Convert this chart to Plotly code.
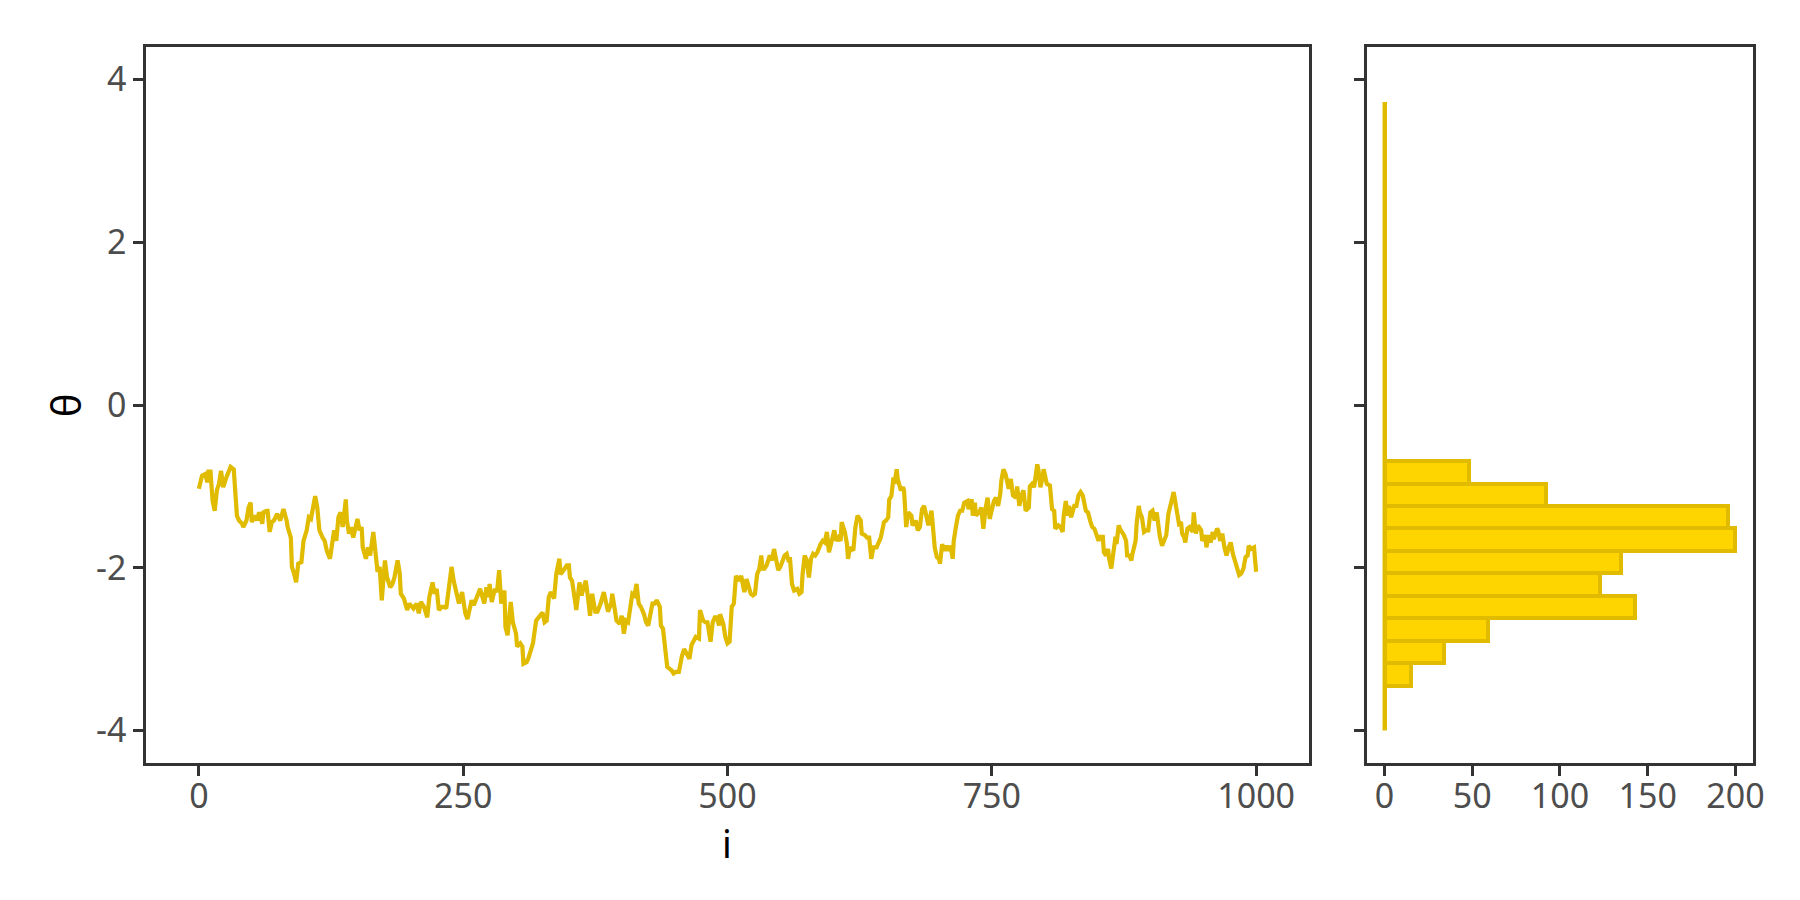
import plotly.graph_objects as go

# ---- trace data ----
iteration = [0, 3, 6, 8, 9, 11, 13, 15, 17, 19, 21, 23, 26, 28, 30, 33, 35, 36, 38, 41, 42, 45, 47, 49, 50, 53, 55, 57, 60, 61, 64, 65, 67, 69, 71, 74, 77, 80, 83, 84, 87, 88, 90, 92, 94, 97, 99, 102, 104, 106, 108, 110, 112, 114, 117, 119, 121, 124,
             126, 128, 130, 132, 134, 136, 139, 140, 142, 144, 146, 148, 150, 152, 154, 155, 158, 160, 162, 165, 167, 169, 171, 173, 176, 178, 181, 183, 185, 188, 190, 191, 194, 197, 199, 201, 203, 206, 208, 210, 213, 216, 218, 221, 223, 225, 227, 230, 232, 234, 236, 239, 241, 244, 246, 249, 252, 254, 256, 258, 260, 264, 266,
             270, 272, 274, 275, 277, 280, 282, 284, 286, 289, 290, 292, 295, 297, 300, 301, 304, 306, 307, 310, 312, 314, 316, 319, 322, 325, 327, 329, 331, 333, 336, 338, 341, 342, 345, 348, 350, 351, 353, 356, 357, 360, 362, 364, 366, 368, 370, 372, 375, 377, 380, 383, 385, 387, 390,
             391, 393, 395, 398, 400, 402, 404, 406, 408, 410, 412, 414, 416, 418, 421, 423, 425, 427, 429, 431, 433, 436, 437, 439, 441, 443, 445, 447, 449, 451, 454, 455, 457, 459, 461, 464, 466, 468, 470, 473, 474, 477, 479, 481, 484, 486, 488, 490, 492, 493, 496, 498, 500, 502, 504, 506, 508, 511, 513, 515, 516, 518, 520, 522, 524, 526, 528, 530,
             532, 533, 535, 537, 540, 542, 544, 546, 548, 550, 552, 554, 556, 558, 559, 561, 563, 566, 568, 570, 571, 573, 575, 577, 579, 581, 583, 585, 588, 590, 592, 594, 596, 599, 601, 603, 605, 607, 608, 611, 613, 614, 616, 619, 621, 623, 626, 627, 630, 632, 634, 636, 638, 641, 643, 645, 648, 650, 652, 653, 655, 657, 658, 660, 661, 664,
             666, 667, 669, 671, 674, 675, 678, 680, 682, 684, 686, 689, 690, 693, 694, 696, 698, 700, 701, 703, 705, 707, 709, 711, 713, 714, 716, 718, 720, 722, 724, 727, 728, 731, 732, 734, 735, 738, 740, 742, 744, 746, 748, 750, 752, 754, 756, 758, 759, 761, 763, 766, 768, 770, 773, 774, 776, 778, 780, 782, 785, 786, 788, 790, 793, 794, 796,
             798, 799, 802, 805, 807, 809, 810, 813, 815, 817, 818, 820, 822, 823, 825, 828, 830, 832, 834, 836, 839, 841, 843, 845, 847, 849, 851, 852, 855, 856, 858, 860, 861, 863, 865, 867, 868, 870, 872, 875, 877, 878, 880, 882, 883, 886, 887, 889, 890, 892, 894, 896, 898, 900, 902, 904, 906, 907, 909, 911, 913, 915, 917, 918, 920, 922,
             924, 925, 927, 929, 930, 932, 933, 935, 937, 940, 941, 943, 945, 948, 949, 952, 953, 955, 957, 959, 960, 963, 964, 966, 968, 970, 972, 974, 976, 978, 980, 982, 984, 986, 988, 990, 992, 993, 995, 998, 999, 1000]

theta = [-1.03, -0.87, -0.85, -0.95, -0.82, -0.82, -1.18, -1.30, -1.05, -0.97, -0.81, -1.01, -0.89, -0.83, -0.76, -0.79, -1.10, -1.36, -1.42, -1.46, -1.50, -1.42, -1.26, -1.20, -1.44, -1.36, -1.42, -1.32, -1.46, -1.32, -1.30, -1.30, -1.56, -1.44, -1.42, -1.34, -1.42, -1.28, -1.42, -1.50, -1.63, -1.99, -2.07, -2.18, -1.95, -1.93, -1.67, -1.54, -1.38, -1.40, -1.26, -1.12, -1.26, -1.54, -1.63, -1.67, -1.79, -1.89,
         -1.71, -1.54, -1.67, -1.38, -1.32, -1.50, -1.16, -1.42, -1.58, -1.50, -1.63, -1.50, -1.40, -1.54, -1.50, -1.75, -1.89, -1.75, -1.85, -1.56, -1.87, -2.05, -1.99, -2.40, -1.91, -2.12, -2.24, -2.20, -2.12, -1.91, -2.07, -2.32, -2.38, -2.52, -2.44, -2.48, -2.50, -2.44, -2.56, -2.42, -2.48, -2.61, -2.36, -2.18, -2.32, -2.26, -2.52, -2.48, -2.48, -2.50, -2.30, -1.99, -2.16, -2.34, -2.44, -2.30, -2.56, -2.63, -2.48, -2.40, -2.46, -2.30, -2.26,
         -2.44, -2.24, -2.36, -2.20, -2.42, -2.26, -2.30, -2.03, -2.44, -2.28, -2.73, -2.83, -2.42, -2.67, -2.81, -2.97, -2.93, -2.97, -3.18, -3.16, -3.10, -3.03, -2.93, -2.65, -2.59, -2.55, -2.67, -2.65, -2.36, -2.30, -2.38, -2.08, -1.89, -2.08, -2.03, -1.97, -1.97, -2.12, -2.16, -2.48, -2.52, -2.18, -2.34, -2.24, -2.16, -2.36, -2.59, -2.32, -2.54, -2.54, -2.44, -2.30, -2.44, -2.54, -2.44,
         -2.32, -2.48, -2.65, -2.69, -2.59, -2.81, -2.65, -2.67, -2.52, -2.32, -2.34, -2.20, -2.44, -2.48, -2.57, -2.67, -2.71, -2.57, -2.44, -2.44, -2.40, -2.48, -2.71, -2.75, -3.01, -3.22, -3.24, -3.26, -3.30, -3.28, -3.28, -3.20, -3.08, -3.00, -3.06, -3.12, -2.95, -2.89, -2.85, -2.87, -2.52, -2.65, -2.67, -2.67, -2.91, -2.67, -2.61, -2.61, -2.71, -2.57, -2.69, -2.85, -2.93, -2.91, -2.48, -2.44, -2.10, -2.16, -2.10, -2.24, -2.30, -2.14, -2.24, -2.32, -2.34, -2.32, -2.08, -2.02,
         -1.85, -2.01, -2.01, -1.97, -1.85, -1.91, -1.77, -1.89, -2.03, -1.99, -1.91, -1.85, -1.83, -1.93, -1.87, -2.20, -2.28, -2.26, -2.32, -2.30, -2.08, -1.85, -1.91, -2.12, -1.89, -1.83, -1.85, -1.81, -1.71, -1.67, -1.69, -1.56, -1.81, -1.67, -1.54, -1.67, -1.63, -1.67, -1.44, -1.56, -1.71, -1.89, -1.75, -1.79, -1.50, -1.36, -1.42, -1.58, -1.60, -1.63, -1.63, -1.89, -1.75, -1.75, -1.69, -1.63, -1.44, -1.42, -1.38, -1.16, -1.12, -0.89, -0.97, -0.79, -0.91, -1.05,
         -1.01, -1.05, -1.50, -1.32, -1.36, -1.48, -1.42, -1.54, -1.50, -1.28, -1.24, -1.46, -1.48, -1.30, -1.48, -1.75, -1.87, -1.89, -1.95, -1.71, -1.79, -1.73, -1.79, -1.73, -1.89, -1.67, -1.50, -1.36, -1.30, -1.30, -1.20, -1.18, -1.28, -1.16, -1.36, -1.20, -1.36, -1.32, -1.26, -1.52, -1.28, -1.14, -1.40, -1.30, -1.18, -1.14, -1.24, -1.09, -0.93, -0.79, -0.85, -1.03, -0.91, -1.11, -1.14, -1.00, -1.24, -1.11, -1.05, -1.30, -1.26, -1.00, -0.97, -1.01, -0.73, -0.79, -1.01,
         -0.89, -0.79, -0.97, -0.99, -1.28, -1.30, -1.52, -1.48, -1.50, -1.56, -1.36, -1.18, -1.36, -1.24, -1.38, -1.24, -1.24, -1.11, -1.07, -1.11, -1.30, -1.32, -1.42, -1.50, -1.52, -1.62, -1.67, -1.62, -1.62, -1.81, -1.85, -1.77, -1.89, -2.01, -1.79, -1.62, -1.71, -1.48, -1.54, -1.60, -1.67, -1.85, -1.85, -1.91, -1.83, -1.67, -1.46, -1.24, -1.32, -1.38, -1.56, -1.54, -1.54, -1.32, -1.30, -1.42, -1.32, -1.44, -1.62, -1.73, -1.67, -1.60, -1.34, -1.30, -1.18, -1.07,
         -1.26, -1.30, -1.46, -1.44, -1.58, -1.63, -1.69, -1.52, -1.50, -1.56, -1.32, -1.58, -1.48, -1.54, -1.67, -1.60, -1.75, -1.60, -1.69, -1.56, -1.65, -1.52, -1.54, -1.67, -1.58, -1.75, -1.85, -1.75, -1.69, -1.83, -1.91, -2.01, -2.09, -2.07, -2.01, -1.87, -1.85, -1.73, -1.77, -1.75, -1.87, -2.05]

# ---- histogram data ----
hist_start = -4.0
hist_binwidth = 8 / 29
hist_counts = [0, 0, 15, 34, 59, 143, 123, 135, 200, 196, 92, 48,
               0, 0, 0, 0, 0, 0, 0, 0, 0, 0, 0, 0, 0, 0, 0, 0]

y_tick_vals = [-4, -2, 0, 2, 4]
y_tick_text = ["-4", "-2", "0", "2", "4"]
x_tick_vals = [0, 250, 500, 750, 1000]
h_tick_vals = [0, 50, 100, 150, 200]

LINE_COL = "#E0BB00"
FILL_COL = "#FFD500"
AX_COL = "#333333"
TXT_COL = "#4D4D4D"
FONT = "Noto Sans"

hist_edges = [hist_start + k * hist_binwidth for k in range(len(hist_counts) + 1)]
hist_centers = [hist_start + (k + 0.5) * hist_binwidth for k in range(len(hist_counts))]

fig = go.Figure()
fig.add_trace(go.Scatter(x=iteration, y=theta, mode="lines",
                         line=dict(color=LINE_COL, width=4.2),
                         xaxis="x", yaxis="y", showlegend=False))
# zero-count bins appear as a line along x=0
fig.add_trace(go.Scatter(x=[0, 0], y=[hist_edges[0], hist_edges[-1]], mode="lines",
                         line=dict(color=LINE_COL, width=4),
                         xaxis="x2", yaxis="y2", showlegend=False))
fig.add_trace(go.Bar(x=hist_counts, y=hist_centers, orientation="h",
                     width=hist_binwidth,
                     marker=dict(color=FILL_COL, line=dict(color=LINE_COL, width=4)),
                     xaxis="x2", yaxis="y2", showlegend=False))

def axis_style(standoff):
    return dict(showline=True, mirror=True, linecolor=AX_COL, linewidth=2.5,
                ticks="outside", ticklen=10, tickwidth=2.5, tickcolor=AX_COL,
                showgrid=False, zeroline=False, ticklabelstandoff=standoff,
                tickfont=dict(family=FONT, size=34, color=TXT_COL))

# the page body adds an 8px offset; the figure is sized so the plot areas land
# where the reference has them
fig.update_layout(
    width=1792, height=892,
    paper_bgcolor="white", plot_bgcolor="white",
    margin=dict(l=138, r=47, t=39, b=137),
    bargap=0,
    xaxis=dict(domain=[0, 0.7237], range=[-50, 1050], tickvals=x_tick_vals,
               **axis_style(-9)),
    yaxis=dict(range=[-4.4, 4.4], tickvals=y_tick_vals, ticktext=y_tick_text,
               **axis_style(0)),
    xaxis2=dict(domain=[0.7598, 1], range=[-10, 210], tickvals=h_tick_vals,
                anchor="y2", **axis_style(-9)),
    yaxis2=dict(range=[-4.4, 4.4], tickvals=y_tick_vals, showticklabels=False,
                anchor="x2", **axis_style(0)),
    annotations=[
        dict(text="i", xref="paper", yref="paper", x=0.3615, y=-0.112,
             xanchor="center", yanchor="middle", showarrow=False,
             font=dict(family=FONT, size=38, color="black")),
        dict(text="θ", xref="paper", yref="paper", x=-0.0502, y=0.5,
             xanchor="center", yanchor="middle", showarrow=False, textangle=-90,
             font=dict(family=FONT, size=40, color="black")),
    ],
)

fig.write_html("out.html")
